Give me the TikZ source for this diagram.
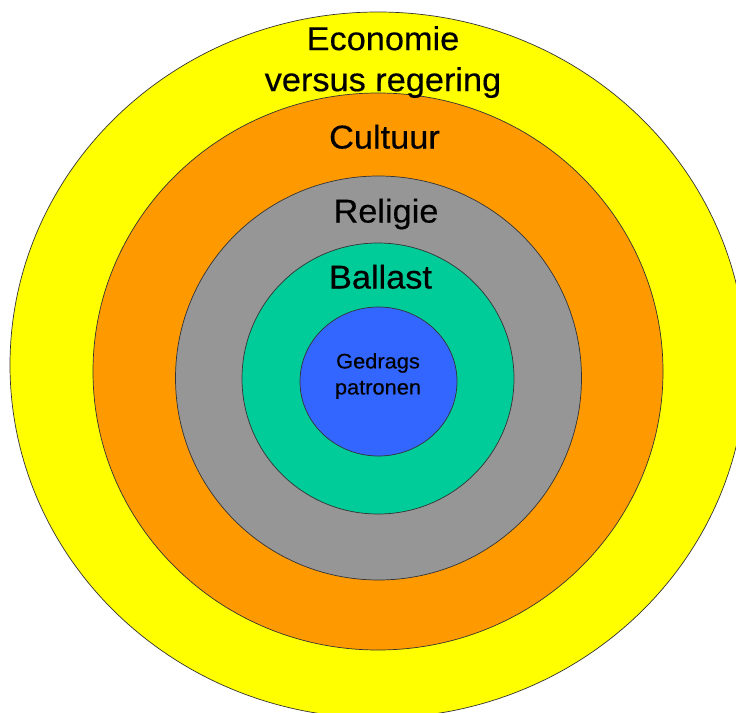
\documentclass[tikz,border=0pt]{standalone}
\usepackage{fontspec}
\setmainfont{Liberation Sans}
\newfontfamily\ringfont{Liberation Sans}[FakeStretch=1.04, FakeBold=0.4]
\definecolor{ringyellow}{HTML}{FFFF00}
\definecolor{ringorange}{HTML}{FF9900}
\definecolor{ringgray}{HTML}{969696}
\definecolor{ringteal}{HTML}{00CC99}
\definecolor{ringblue}{HTML}{3366FF}

\begin{document}
\begin{tikzpicture}[x=1pt, y=-1pt,
    ring/.style={draw=black!80, line width=0.7pt},
    biglabel/.style={font=\ringfont\fontsize{33}{41}\selectfont, inner sep=0pt, anchor=north, align=center},
    smalllabel/.style={font=\ringfont\fontsize{21}{26}\selectfont, inner sep=0pt, anchor=north, align=center}]
    \useasboundingbox (0,0) rectangle (736,712);
    \clip (0,0) rectangle (736,712);
    \fill[white] (0,0) rectangle (736,712);

    \draw[ring, fill=ringyellow] (378,365)   ellipse [x radius=368pt, y radius=353pt];
    \draw[ring, fill=ringorange] (378,371.5) ellipse [x radius=285pt, y radius=278.5pt];
    \draw[ring, fill=ringgray]   (378.5,378) ellipse [x radius=203pt, y radius=202pt];
    \draw[ring, fill=ringteal]   (378,378.5) ellipse [x radius=136pt, y radius=135.5pt];
    \draw[ring, fill=ringblue]   (378.5,381.5) ellipse [x radius=78.5pt, y radius=74.5pt];

    \node[biglabel] (economie) at (383,26) {Economie\\versus regering};
    \node[biglabel] (cultuur) at (384.5,124.4) {Cultuur};
    \node[biglabel] (religie) at (386,198.4) {Religie};
    \node[biglabel] (ballast) at (380.5,264.4) {Ballast};
    \node[smalllabel] (gedrag) at (378,353) {Gedrags\\patronen};
\end{tikzpicture}
\end{document}
